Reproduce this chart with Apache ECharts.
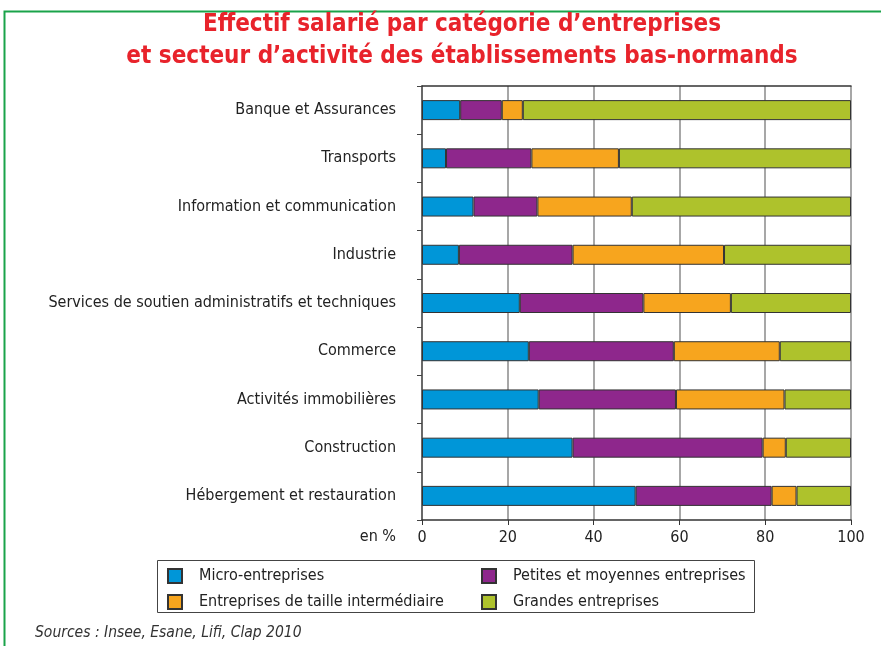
<!DOCTYPE html>
<html>
<head>
    <meta charset="utf-8">
    <title>Effectif salarié</title>
    <script src="https://cdn.jsdelivr.net/npm/echarts@6/dist/echarts.min.js"></script>
    <style>
        html, body { margin: 0; padding: 0; background: #fff; }
        #chart { width: 881px; height: 646px; }
    </style>
</head>
<body>
<div id="chart"></div>
<script type="text/javascript">
    // secteurs, du haut vers le bas
    var secteurs = ['Banque et Assurances', 'Transports', 'Information et communication', 'Industrie',
        'Services de soutien administratifs et techniques', 'Commerce', 'Activités immobilières',
        'Construction', 'Hébergement et restauration'];

    // parts en %
    var micro = [8.9, 5.6, 12.0, 8.6, 22.8, 24.9, 27.2, 35.1, 49.8];
    var pme = [9.7, 19.9, 14.9, 26.5, 28.8, 33.8, 32.0, 44.3, 31.7];
    var eti = [4.9, 20.4, 22.0, 35.3, 20.4, 24.7, 25.3, 5.4, 5.8];
    var grandes = [76.5, 54.1, 51.1, 29.6, 28.0, 16.6, 15.5, 15.2, 12.7];

    var xTicks = [0, 20, 40, 60, 80, 100];

    var noms = ['Micro-entreprises', 'Petites et moyennes entreprises',
        'Entreprises de taille intermédiaire', 'Grandes entreprises'];
    var couleurs = ['#0096d8', '#8e278c', '#f7a51e', '#aec22c'];
    var valeurs = [micro, pme, eti, grandes];

    var police = 'DejaVu Sans Condensed';

    var myChart = echarts.init(document.getElementById('chart'));

    var series = noms.map(function (nom, i) {
        return {
            name: nom,
            type: 'bar',
            stack: 'total',
            barWidth: 20,
            data: valeurs[i],
            itemStyle: { color: couleurs[i], borderColor: '#333', borderWidth: 1 }
        };
    });

    var legendText = { fontFamily: police, fontSize: 16, color: '#222', padding: [0, 0, 0, 12] };

    myChart.setOption({
        animation: false,
        textStyle: { fontFamily: police },
        title: {
            text: 'Effectif salarié par catégorie d’entreprises\net secteur d’activité des établissements bas-normands',
            left: 457,
            textAlign: 'center',
            top: 4,
            textStyle: {
                fontFamily: police,
                fontWeight: 'bold',
                fontSize: 24,
                lineHeight: 32,
                color: '#e8232b'
            }
        },
        legend: [{
            data: [noms[0], noms[2]],
            orient: 'vertical',
            left: 162,
            top: 563,
            itemWidth: 14,
            itemHeight: 14,
            itemGap: 10,
            icon: 'rect',
            textStyle: legendText
        }, {
            data: [noms[1], noms[3]],
            orient: 'vertical',
            left: 476,
            top: 563,
            itemWidth: 14,
            itemHeight: 14,
            itemGap: 10,
            icon: 'rect',
            textStyle: legendText
        }],
        grid: { left: 422, right: 30, top: 86, bottom: 126 },
        xAxis: [{
            type: 'value',
            min: 0,
            max: 100,
            interval: 20,
            axisLine: { show: true, lineStyle: { color: '#333', width: 1.5 } },
            axisTick: { show: true, length: 5, lineStyle: { color: '#333' } },
            axisLabel: {
                fontSize: 16, color: '#222', margin: 10,
                formatter: function (v) { return xTicks.indexOf(v) >= 0 ? v : ''; }
            },
            splitLine: { show: true, lineStyle: { color: '#8a8a8a', width: 1.5 } }
        }, {
            type: 'value',
            position: 'top',
            min: 0,
            max: 100,
            axisLine: { show: true, lineStyle: { color: '#333', width: 1.5 } },
            axisTick: { show: false },
            axisLabel: { show: false },
            splitLine: { show: false }
        }],
        yAxis: {
            type: 'category',
            data: secteurs,
            inverse: true,
            axisLine: { show: true, lineStyle: { color: '#555', width: 1.5 } },
            axisTick: { show: true, length: 5, lineStyle: { color: '#444' } },
            axisLabel: { fontSize: 16, color: '#222', margin: 26 }
        },
        series: series,
        graphic: [{
            // cadre vert
            type: 'rect',
            shape: { x: 4.5, y: 11.5, width: 900, height: 700 },
            style: { fill: 'none', stroke: '#1aa34a', lineWidth: 2 }
        }, {
            type: 'text',
            right: 485,
            top: 529,
            style: { text: 'en %', fontSize: 16, fill: '#222', fontFamily: police }
        }, {
            // cadre de la légende
            type: 'rect',
            shape: { x: 157.5, y: 560.5, width: 597, height: 52 },
            style: { fill: 'none', stroke: '#444', lineWidth: 1 }
        }, {
            type: 'text',
            left: 35,
            top: 625,
            style: {
                text: 'Sources : Insee, Esane, Lifi, Clap 2010',
                fontSize: 15.5, fontStyle: 'italic', fill: '#333', fontFamily: police
            }
        }]
    });
</script>
</body>
</html>
